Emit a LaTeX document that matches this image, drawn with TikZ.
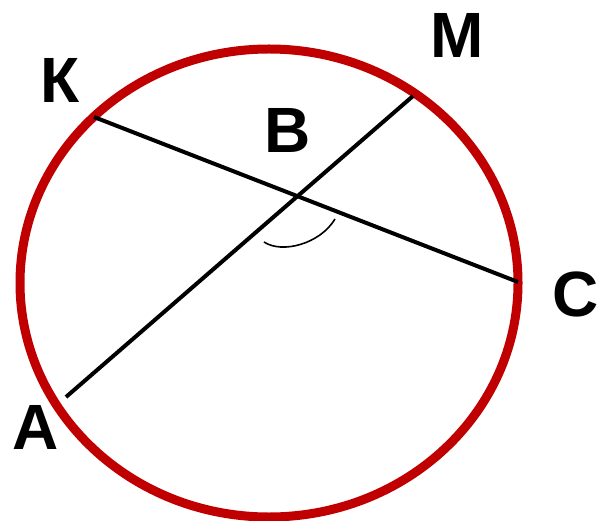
\documentclass[tikz,border=0pt]{standalone}
\usepackage{fontspec}
\setmainfont{Liberation Sans}
\usepackage{xcolor}
\usetikzlibrary{calc}
\definecolor{rimred}{HTML}{C00000}

\tikzset{
  lbl/.style={inner sep=0pt, font=\fontsize{64}{70}\selectfont\bfseries},
  chord/.style={line width=4pt, black},
  rim/.style={line width=9pt, rimred}
}

\begin{document}
\begin{tikzpicture}[x=1pt,y=-1pt]
\useasboundingbox (0,0) rectangle (599,521);
\draw[rim] (269,283) ellipse [x radius=249, y radius=234];
\coordinate (k) at (94,117);
\coordinate (c) at (518,282);
\coordinate (m) at (413,96);
\coordinate (a) at (66,397);
\coordinate (b) at (295,196);
\draw[chord] (k) -- (c);
\draw[chord] (m) -- (a);
\draw[line width=1.6pt] (264,242) .. controls (282,254) and (320,244) .. (335,219);
\node[lbl] (kl) at (60,80) {К};
\node[lbl] (ml) at (457,35) {М};
\node[lbl] (bl) at (288,130) {В};
\node[lbl] (cl) at (576,294) {С};
\node[lbl] (al) at (36,427) {А};
\end{tikzpicture}
\end{document}
